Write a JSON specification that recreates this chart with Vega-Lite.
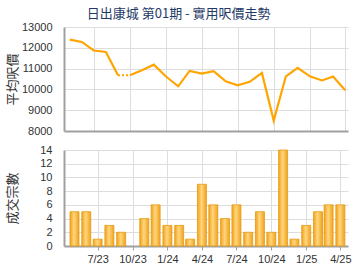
{
  "$schema": "https://vega.github.io/schema/vega-lite/v6.json",
  "padding": {"left": 6, "top": 8, "right": 6, "bottom": 4},
  "title": {"text": "日出康城 第01期 - 實用呎價走勢", "anchor": "middle", "frame": "bounds", "fontSize": 13, "font": "Noto Sans CJK TC", "fontWeight": "normal", "color": "#1F3A66", "offset": 0},
  "datasets": {
    "monthly": [
      {"month": "2023-05-01T00:00", "price": 12390, "count": 5, "seg": "a"},
      {"month": "2023-06-01T00:00", "price": 12280, "count": 5, "seg": "a"},
      {"month": "2023-07-01T00:00", "price": 11870, "count": 1, "seg": "a"},
      {"month": "2023-08-01T00:00", "price": 11800, "count": 3, "seg": "a"},
      {"month": "2023-09-01T00:00", "price": 10680, "count": 2, "seg": "a"},
      {"month": "2023-10-01T00:00", "price": 10680, "count": 0, "seg": "b"},
      {"month": "2023-11-01T00:00", "price": 10920, "count": 4, "seg": "b"},
      {"month": "2023-12-01T00:00", "price": 11190, "count": 6, "seg": "b"},
      {"month": "2024-01-01T00:00", "price": 10620, "count": 3, "seg": "b"},
      {"month": "2024-02-01T00:00", "price": 10150, "count": 3, "seg": "b"},
      {"month": "2024-03-01T00:00", "price": 10890, "count": 1, "seg": "b"},
      {"month": "2024-04-01T00:00", "price": 10760, "count": 9, "seg": "b"},
      {"month": "2024-05-01T00:00", "price": 10880, "count": 6, "seg": "b"},
      {"month": "2024-06-01T00:00", "price": 10390, "count": 4, "seg": "b"},
      {"month": "2024-07-01T00:00", "price": 10200, "count": 6, "seg": "b"},
      {"month": "2024-08-01T00:00", "price": 10365, "count": 2, "seg": "b"},
      {"month": "2024-09-01T00:00", "price": 10790, "count": 5, "seg": "b"},
      {"month": "2024-10-01T00:00", "price": 8500, "count": 2, "seg": "b"},
      {"month": "2024-11-01T00:00", "price": 10630, "count": 14, "seg": "b"},
      {"month": "2024-12-01T00:00", "price": 11040, "count": 1, "seg": "b"},
      {"month": "2025-01-01T00:00", "price": 10630, "count": 3, "seg": "b"},
      {"month": "2025-02-01T00:00", "price": 10430, "count": 5, "seg": "b"},
      {"month": "2025-03-01T00:00", "price": 10620, "count": 6, "seg": "b"},
      {"month": "2025-04-01T00:00", "price": 9960, "count": 6, "seg": "b"}
    ],
    "gap": [
      {"month": "2023-09-01T00:00", "price": 10680},
      {"month": "2023-10-01T00:00", "price": 10680}
    ]
  },
  "spacing": 8,
  "vconcat": [
    {
      "width": 284,
      "height": 104,
      "encoding": {
        "x": {"field": "month", "type": "temporal",
          "scale": {"domain": [{"year": 2023, "month": 4, "date": 16, "hours": 12}, {"year": 2025, "month": 4, "date": 8}]},
          "axis": {"title": null, "labels": false, "ticks": false, "grid": true,
            "values": [{"year": 2023, "month": 7, "date": 1}, {"year": 2023, "month": 10, "date": 1}, {"year": 2024, "month": 1, "date": 1}, {"year": 2024, "month": 4, "date": 1}, {"year": 2024, "month": 7, "date": 1}, {"year": 2024, "month": 10, "date": 1}, {"year": 2025, "month": 1, "date": 1}, {"year": 2025, "month": 4, "date": 1}]}},
        "y": {"field": "price", "type": "quantitative",
          "scale": {"domain": [8000, 13000], "nice": false, "zero": false},
          "axis": {"title": "平均呎價", "values": [8000, 9000, 10000, 11000, 12000, 13000], "format": "d", "ticks": false, "labelPadding": 12, "titlePadding": 2, "grid": true}}
      },
      "layer": [
        {"data": {"name": "monthly"}, "mark": {"type": "line", "color": "#FFA500", "strokeWidth": 2.2, "clip": true},
          "encoding": {"detail": {"field": "seg"}}},
        {"data": {"name": "gap"}, "mark": {"type": "line", "color": "#FFA500", "strokeWidth": 2.2, "strokeDash": [2, 2]},
          "encoding": {}}
      ]
    },
    {
      "width": 284,
      "height": 96,
      "data": {"name": "monthly"},
      "transform": [{"filter": "datum.count > 0"}],
      "mark": {"type": "bar", "width": 9, "stroke": "#E99A12", "strokeWidth": 0.8,
        "color": {"gradient": "linear", "x1": 0, "y1": 0, "x2": 1, "y2": 0,
          "stops": [{"offset": 0, "color": "#F2A21A"}, {"offset": 0.45, "color": "#FFD67E"}, {"offset": 1, "color": "#F0A21C"}]}},
      "encoding": {
        "x": {"field": "month", "type": "temporal",
          "scale": {"domain": [{"year": 2023, "month": 4, "date": 16, "hours": 12}, {"year": 2025, "month": 4, "date": 8}]},
          "axis": {"title": null, "format": "%-m/%y", "tickSize": 4, "tickColor": "#A0A0A0", "labelPadding": 3, "grid": true,
            "values": [{"year": 2023, "month": 7, "date": 1}, {"year": 2023, "month": 10, "date": 1}, {"year": 2024, "month": 1, "date": 1}, {"year": 2024, "month": 4, "date": 1}, {"year": 2024, "month": 7, "date": 1}, {"year": 2024, "month": 10, "date": 1}, {"year": 2025, "month": 1, "date": 1}, {"year": 2025, "month": 4, "date": 1}]}},
        "y": {"field": "count", "type": "quantitative",
          "scale": {"domain": [0, 14], "nice": false},
          "axis": {"title": "成交宗數", "values": [0, 2, 4, 6, 8, 10, 12, 14], "ticks": false, "labelPadding": 12, "titlePadding": 20.5, "grid": true}}
      }
    }
  ],
  "config": {
    "view": {"stroke": null},
    "axis": {"labelFont": "Liberation Sans", "labelFontSize": 11, "labelColor": "#333333", "gridColor": "#DDDDDD", "gridWidth": 1, "domainColor": "#A0A0A0", "domainWidth": 2, "titleFont": "Noto Sans CJK TC", "titleFontSize": 13, "titleFontWeight": "normal", "titleColor": "#333333"}
  }
}
